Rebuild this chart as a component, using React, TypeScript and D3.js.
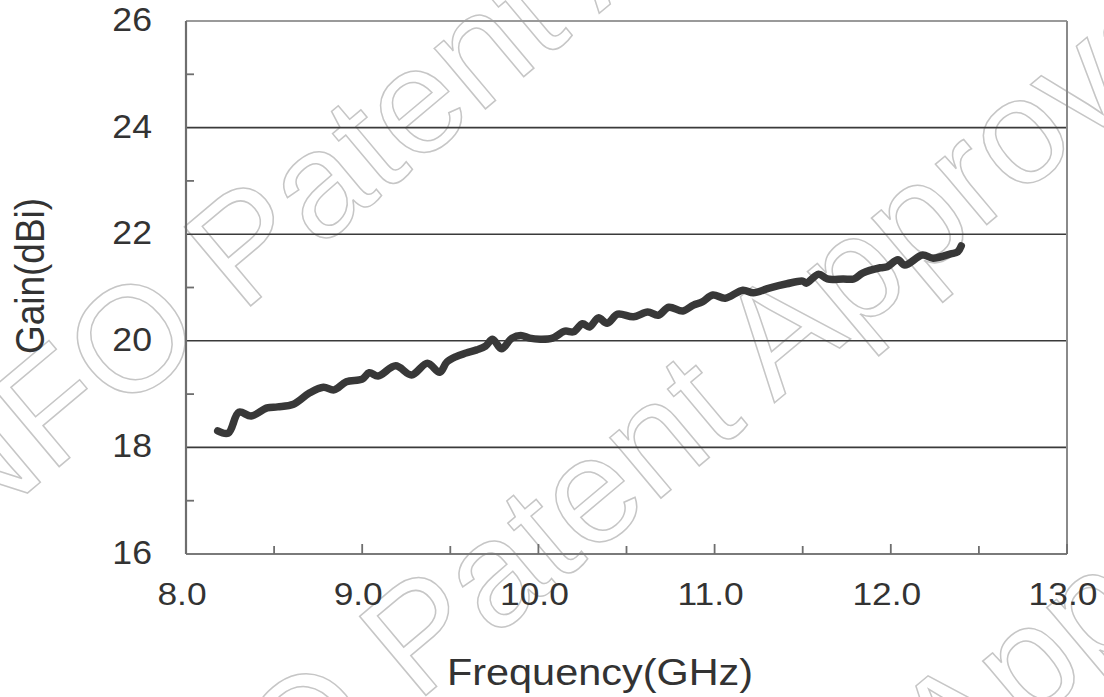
import React, { useEffect, useRef } from "react";
import * as d3 from "d3";

// Gain curve
const freqGHz = [
  8.18, 8.24, 8.3, 8.37, 8.46, 8.52, 8.61, 8.7, 8.78, 8.84, 8.91, 9.0, 9.04, 9.09, 9.19, 9.28,
  9.37, 9.44, 9.48, 9.53, 9.59, 9.65, 9.7, 9.74, 9.79, 9.85, 9.9, 9.95, 10.01, 10.08, 10.15,
  10.2, 10.25, 10.29, 10.34, 10.39, 10.45, 10.54, 10.62, 10.68, 10.74, 10.82, 10.88, 10.93,
  10.99, 11.06, 11.16, 11.22, 11.31, 11.41, 11.5, 11.52, 11.59, 11.64, 11.73, 11.79, 11.84,
  11.94, 11.98, 12.04, 12.08, 12.18, 12.24, 12.34, 12.38, 12.4,
];
const gainDBi = [
  18.31, 18.27, 18.66, 18.59, 18.74, 18.76, 18.81, 19.02, 19.13, 19.08, 19.23, 19.28, 19.4,
  19.34, 19.53, 19.36, 19.58, 19.41, 19.6, 19.7, 19.77, 19.83, 19.9, 20.03, 19.85, 20.05, 20.1,
  20.05, 20.03, 20.05, 20.18, 20.17, 20.32, 20.26, 20.43, 20.33, 20.5, 20.45, 20.54, 20.48,
  20.63, 20.56, 20.67, 20.73, 20.86, 20.8, 20.95, 20.9, 20.99, 21.07, 21.12, 21.08, 21.25,
  21.16, 21.16, 21.16, 21.27, 21.37, 21.39, 21.52, 21.42, 21.61, 21.55, 21.63, 21.67, 21.78,
];
const xTickLabels = [8, 9, 10, 11, 12, 13];
const xMinorTicks = [8.5, 9.5, 10.5, 11.5, 12.5];
const yTickLabels = [16, 18, 20, 22, 24, 26];
const yMinorTicks = [17, 19, 21, 23, 25];
const gridValues = [18, 20, 22, 24];
const watermarkText = "INFO Patent Approval";

const W = 1104;
const H = 697;
const margin = { left: 186, top: 21, right: 37, bottom: 143 };
const FONT = "'Liberation Sans', Arial, Helvetica, sans-serif";

function GainChart() {
  const chartRef = useRef(null);

  useEffect(() => {
    const svg = d3.select(chartRef.current);
    svg.selectAll("*").remove();

    const x = d3.scaleLinear().domain([8, 13]).range([margin.left, W - margin.right]);
    const y = d3.scaleLinear().domain([16, 26]).range([H - margin.bottom, margin.top]);
    const x0 = x(8), x1 = x(13), y0 = y(16), y1 = y(26);

    svg.append("rect").attr("width", W).attr("height", H).attr("fill", "white");

    // watermark, outlined letters on three slanted rows
    const rows = [
      { sx: -616, by: -226 },
      { sx: -732, by: 185 },
      { sx: -848, by: 596 },
    ];
    const wm = svg
      .append("g")
      .attr("transform", "translate(552,348) rotate(-40)")
      .style("font-family", FONT)
      .style("font-size", "150px");
    wm.selectAll("text")
      .data(rows)
      .enter()
      .append("text")
      .attr("x", (d) => d.sx)
      .attr("y", (d) => d.by)
      .attr("fill", "none")
      .attr("stroke", "#c6c6c6")
      .attr("stroke-width", 1.5)
      .text(watermarkText);

    // gridlines
    svg
      .append("g")
      .selectAll("line")
      .data(gridValues)
      .enter()
      .append("line")
      .attr("x1", x0)
      .attr("x2", x1)
      .attr("y1", (d) => y(d))
      .attr("y2", (d) => y(d))
      .attr("stroke", "#3a3a3a")
      .attr("stroke-width", 1.6);

    // frame
    svg.append("line").attr("x1", x0).attr("x2", x1).attr("y1", y1).attr("y2", y1)
      .attr("stroke", "#9a9a9a").attr("stroke-width", 2);
    svg.append("line").attr("x1", x1).attr("x2", x1).attr("y1", y1).attr("y2", y0)
      .attr("stroke", "#8a8a8a").attr("stroke-width", 2);
    svg.append("line").attr("x1", x0).attr("x2", x0).attr("y1", y1).attr("y2", y0)
      .attr("stroke", "#6e6e6e").attr("stroke-width", 2.2);
    svg.append("line").attr("x1", x0).attr("x2", x1).attr("y1", y0).attr("y2", y0)
      .attr("stroke", "#7a7a7a").attr("stroke-width", 2.2);

    // inward ticks
    const ticks = svg.append("g").attr("stroke", "#6e6e6e").attr("stroke-width", 1.8);
    ticks.selectAll(".xmaj").data(xTickLabels).enter().append("line")
      .attr("x1", (d) => x(d)).attr("x2", (d) => x(d))
      .attr("y1", y0).attr("y2", y0 - 10);
    ticks.selectAll(".xmin").data(xMinorTicks).enter().append("line")
      .attr("x1", (d) => x(d)).attr("x2", (d) => x(d))
      .attr("y1", y0).attr("y2", y0 - 8);
    ticks.selectAll(".ymin").data(yMinorTicks).enter().append("line")
      .attr("x1", x0).attr("x2", x0 + 8)
      .attr("y1", (d) => y(d)).attr("y2", (d) => y(d));

    // tick labels
    svg.append("g")
      .selectAll("text")
      .data(yTickLabels)
      .enter()
      .append("text")
      .attr("transform", (d) => `translate(152,${y(d) + 10}) scale(1.08,1)`)
      .attr("text-anchor", "end")
      .style("font-family", FONT)
      .style("font-size", "33px")
      .attr("fill", "#333")
      .text((d) => d);

    svg.append("g")
      .selectAll("text")
      .data(xTickLabels)
      .enter()
      .append("text")
      .attr("transform", (d) => `translate(${x(d) - 4},605) scale(1.14,1)`)
      .attr("text-anchor", "middle")
      .style("font-family", FONT)
      .style("font-size", "31px")
      .attr("fill", "#333")
      .text((d) => d.toFixed(1));

    // axis titles
    svg.append("text")
      .attr("transform", "translate(600,685) scale(1.12,1)")
      .attr("text-anchor", "middle")
      .style("font-family", FONT)
      .style("font-size", "37px")
      .attr("fill", "#333")
      .text("Frequency(GHz)");

    svg.append("text")
      .attr("transform", "translate(44,276) scale(1.12,1) rotate(-90)")
      .attr("text-anchor", "middle")
      .style("font-family", FONT)
      .style("font-size", "37px")
      .attr("fill", "#333")
      .text("Gain(dBi)");

    // gain curve
    const pts = freqGHz.map((f, i) => [f, gainDBi[i]] as [number, number]);
    const line = d3
      .line<[number, number]>()
      .x((d) => x(d[0]))
      .y((d) => y(d[1]))
      .curve(d3.curveCatmullRom.alpha(0.5));
    svg.append("path")
      .attr("d", line(pts) as string)
      .attr("fill", "none")
      .attr("stroke", "#383838")
      .attr("stroke-width", 7.5)
      .attr("stroke-linecap", "round")
      .attr("stroke-linejoin", "round");
  }, []);

  return (
    <svg
      ref={chartRef}
      width={W}
      height={H}
      style={{ position: "absolute", left: 0, top: 0, display: "block" }}
    />
  );
}

export default function App() {
  return <GainChart />;
}
